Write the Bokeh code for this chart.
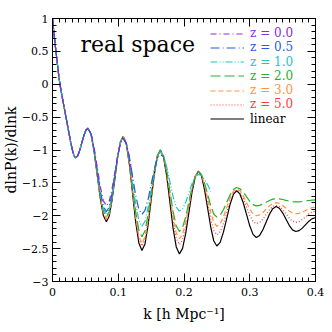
from bokeh.plotting import figure
from bokeh.models import (Range1d, LinearAxis, SingleIntervalTicker, CustomJSTickFormatter,
                          Legend, LegendItem, Label, Title)
from bokeh.embed import file_html
from bokeh.resources import INLINE

# ---------------- data ----------------
k_grid = [0.0, 0.002, 0.004, 0.007, 0.010, 0.013, 0.016, 0.019, 0.022, 0.025, 0.028, 0.031, 0.033,
          0.035, 0.0382, 0.0413, 0.0445, 0.0477, 0.0508, 0.054,
          0.0587, 0.0633, 0.068, 0.0727, 0.0773, 0.082,
          0.0863, 0.0905, 0.0948, 0.099, 0.1033, 0.1075,
          0.1123, 0.117, 0.1218, 0.1265, 0.1313, 0.136,
          0.1407, 0.1453, 0.15, 0.1547, 0.1593, 0.164,
          0.1688, 0.1737, 0.1785, 0.1833, 0.1882, 0.193,
          0.1978, 0.2027, 0.2075, 0.2123, 0.2172, 0.222,
          0.2267, 0.2313, 0.236, 0.2407, 0.2453, 0.25,
          0.255, 0.26, 0.265, 0.27, 0.275, 0.28,
          0.285, 0.29, 0.295, 0.30, 0.305, 0.31,
          0.315, 0.32, 0.325, 0.33, 0.335, 0.34,
          0.345, 0.35, 0.355, 0.36, 0.365, 0.37,
          0.375, 0.38, 0.385, 0.39, 0.395, 0.40]

shared_low_k = [1.00, 0.80, 0.61, 0.35, 0.09, -0.10, -0.26, -0.42, -0.58, -0.74, -0.90, -1.03, -1.09,
                -1.12, -1.09, -1.01, -0.895, -0.78, -0.70, -0.67]

linear = shared_low_k + [
    -0.765, -1.025, -1.38, -1.735, -1.995, -2.09,
    -2.003, -1.765, -1.44, -1.115, -0.877, -0.79,
    -0.907, -1.225, -1.66, -2.095, -2.413, -2.53,
    -2.428, -2.148, -1.765, -1.383, -1.103, -1.00,
    -1.106, -1.395, -1.79, -2.185, -2.474, -2.58,
    -2.496, -2.265, -1.95, -1.635, -1.404, -1.32,
    -1.396, -1.605, -1.89, -2.175, -2.384, -2.46,
    -2.404, -2.25, -2.04, -1.83, -1.676, -1.62,
    -1.668, -1.798, -1.975, -2.153, -2.283, -2.33,
    -2.299, -2.213, -2.095, -1.978, -1.892, -1.86,
    -1.886, -1.955, -2.05, -2.145, -2.215, -2.24,
    -2.226, -2.188, -2.135, -2.083, -2.044, -2.03]

z50 = shared_low_k + [
    -0.764, -1.02, -1.37, -1.72, -1.976, -2.07,
    -1.984, -1.75, -1.43, -1.11, -0.876, -0.79,
    -0.902, -1.208, -1.625, -2.043, -2.348, -2.46,
    -2.362, -2.095, -1.73, -1.365, -1.098, -1.00,
    -1.097, -1.36, -1.72, -2.08, -2.344, -2.44,
    -2.365, -2.16, -1.88, -1.60, -1.395, -1.32,
    -1.385, -1.563, -1.805, -2.048, -2.225, -2.29,
    -2.244, -2.12, -1.95, -1.78, -1.656, -1.61,
    -1.644, -1.738, -1.865, -1.993, -2.086, -2.12,
    -2.101, -2.05, -1.98, -1.91, -1.859, -1.84,
    -1.857, -1.905, -1.97, -2.035, -2.083, -2.10,
    -2.089, -2.058, -2.015, -1.973, -1.941, -1.93]

z30 = shared_low_k + [
    -0.762, -1.015, -1.36, -1.705, -1.958, -2.05,
    -1.966, -1.735, -1.42, -1.105, -0.874, -0.79,
    -0.899, -1.198, -1.605, -2.013, -2.311, -2.42,
    -2.325, -2.065, -1.71, -1.355, -1.095, -1.00,
    -1.09, -1.338, -1.675, -2.013, -2.26, -2.35,
    -2.281, -2.093, -1.835, -1.578, -1.389, -1.32,
    -1.376, -1.53, -1.74, -1.95, -2.104, -2.16,
    -2.122, -2.018, -1.875, -1.733, -1.628, -1.59,
    -1.618, -1.693, -1.795, -1.898, -1.973, -2.00,
    -1.987, -1.95, -1.90, -1.85, -1.813, -1.80,
    -1.811, -1.843, -1.885, -1.928, -1.959, -1.97,
    -1.963, -1.945, -1.92, -1.895, -1.877, -1.87]

z20 = shared_low_k + [
    -0.76, -1.008, -1.345, -1.683, -1.93, -2.02,
    -1.938, -1.715, -1.41, -1.105, -0.882, -0.80,
    -0.902, -1.18, -1.56, -1.94, -2.218, -2.32,
    -2.232, -1.99, -1.66, -1.33, -1.088, -1.00,
    -1.083, -1.31, -1.62, -1.93, -2.157, -2.24,
    -2.179, -2.013, -1.785, -1.558, -1.391, -1.33,
    -1.376, -1.503, -1.675, -1.848, -1.974, -2.02,
    -1.99, -1.908, -1.795, -1.683, -1.60, -1.57,
    -1.589, -1.64, -1.71, -1.78, -1.831, -1.85,
    -1.843, -1.823, -1.795, -1.768, -1.747, -1.74,
    -1.743, -1.753, -1.765, -1.778, -1.787, -1.79,
    -1.788, -1.783, -1.775, -1.768, -1.762, -1.76]

z10 = shared_low_k + [
    -0.758, -0.998, -1.325, -1.653, -1.892, -1.98,
    -1.901, -1.685, -1.39, -1.095, -0.879, -0.80,
    -0.891, -1.14, -1.48, -1.82, -2.069, -2.16,
    -2.084, -1.878, -1.595, -1.313, -1.106, -1.03,
    -1.09, -1.255, -1.48, -1.705, -1.87, -1.93,
    -1.893, -1.79, -1.65, -1.51, -1.408, -1.37,
    -1.39, -1.45, -1.53, -1.63]

z05 = shared_low_k + [
    -0.755, -0.988, -1.305, -1.623, -1.855, -1.94,
    -1.865, -1.66, -1.38, -1.10, -0.895, -0.82,
    -0.898, -1.11, -1.40, -1.69, -1.902, -1.98,
    -1.919, -1.753, -1.525, -1.298, -1.131, -1.07,
    -1.10]

z00 = shared_low_k + [
    -0.749, -0.965, -1.26, -1.555, -1.771, -1.85,
    -1.782, -1.595, -1.34, -1.085, -0.898, -0.83,
    -0.908, -1.123, -1.415]

series_labels = ["z = 0.0", "z = 0.5", "z = 1.0", "z = 2.0", "z = 3.0", "z = 5.0", "linear"]
series_values = [z00, z05, z10, z20, z30, z50, linear]
series_colors = ["#8a2be2", "#1f5fe0", "#22c4c4", "#2aae2a", "#ff9340", "#ff3a3a", "#000000"]
series_dashes = ["6 3 1 3", "9 3 1 3", "7 2 1 2 1 2", "10 4", "5 3", "1 2", "solid"]

x_tick_step = 0.1
y_tick_step = 0.5

# ---------------- figure ----------------
FONT = "DejaVu Serif"
p = figure(frame_width=263, frame_height=263, x_range=Range1d(0, 0.4), y_range=Range1d(-3, 1),
           output_backend="svg", toolbar_location=None,
           min_border_left=51, min_border_right=10, min_border_top=18, min_border_bottom=43)
p.xgrid.visible = False
p.ygrid.visible = False
p.outline_line_color = "black"
p.outline_line_width = 1
p.background_fill_color = "white"
p.border_fill_color = "white"

xfmt = CustomJSTickFormatter(code="var v = Math.round(tick*10)/10; return v.toString();")
yfmt = CustomJSTickFormatter(code="var v = Math.round(tick*10)/10; return (v < 0 ? '\\u2212' : '') + Math.abs(v).toString();")
blank = CustomJSTickFormatter(code="return '';")

def style_axis(ax):
    ax.major_tick_in = 8
    ax.major_tick_out = 0
    ax.minor_tick_in = 4
    ax.minor_tick_out = 0
    ax.axis_line_color = "black"
    ax.major_tick_line_color = "black"
    ax.minor_tick_line_color = "black"
    ax.major_label_text_font = FONT
    ax.major_label_text_font_size = "11px"
    ax.major_label_text_color = "black"
    ax.axis_label_text_font = FONT
    ax.axis_label_text_font_size = "14px"
    ax.axis_label_text_font_style = "normal"
    ax.axis_label_text_color = "black"

xa = p.xaxis[0]
xa.ticker = SingleIntervalTicker(interval=x_tick_step, num_minor_ticks=10)
xa.formatter = xfmt
style_axis(xa)
xa.major_label_standoff = 6
xa.axis_label = "k [h Mpc\u207b\u00b9]"
xa.axis_label_standoff = 7

ya = p.yaxis[0]
ya.ticker = SingleIntervalTicker(interval=y_tick_step, num_minor_ticks=5)
ya.formatter = yfmt
style_axis(ya)
ya.major_label_standoff = 4

# y-axis title as a side title, tight to the tick labels
p.add_layout(Title(text="dlnP(k)/dlnk", align="center", standoff=0, offset=0,
                   text_font=FONT, text_font_size="14px", text_font_style="normal",
                   text_color="black"), "left")

top = LinearAxis(ticker=SingleIntervalTicker(interval=x_tick_step, num_minor_ticks=10), formatter=blank)
style_axis(top)
top.major_label_standoff = 0
top.major_label_text_font_size = "0px"
p.add_layout(top, "above")

right = LinearAxis(ticker=SingleIntervalTicker(interval=y_tick_step, num_minor_ticks=5), formatter=blank)
style_axis(right)
right.major_label_standoff = 0
right.major_label_text_font_size = "0px"
p.add_layout(right, "right")

# draw linear first, z=0.0 last (on top)
renderers = {}
for i in reversed(range(len(series_labels))):
    vals = series_values[i]
    r = p.line(k_grid[:len(vals)], vals, line_color=series_colors[i],
               line_dash=series_dashes[i], line_width=1.2)
    renderers[i] = r

# one legend per entry so the label text takes the line colour
for i, lab in enumerate(series_labels):
    row_center = 31 + 14.25 * i          # pixel row in the reference
    lg = Legend(items=[LegendItem(label=lab, renderers=[renderers[i]])],
                location=(158, 281 - (row_center + 7) - 2),
                padding=0, margin=0, spacing=0,
                glyph_width=34, glyph_height=13, label_height=13, label_standoff=6,
                label_text_font=FONT, label_text_font_size="12px",
                label_text_color=series_colors[i],
                border_line_color=None, background_fill_alpha=0)
    p.add_layout(lg)

p.add_layout(Label(x=0.0426, y=0.597, text="real space", text_font=FONT,
                   text_font_size="22px", text_color="black", text_baseline="alphabetic"))

open("out.html", "w", encoding="utf-8").write(file_html(p, INLINE))
